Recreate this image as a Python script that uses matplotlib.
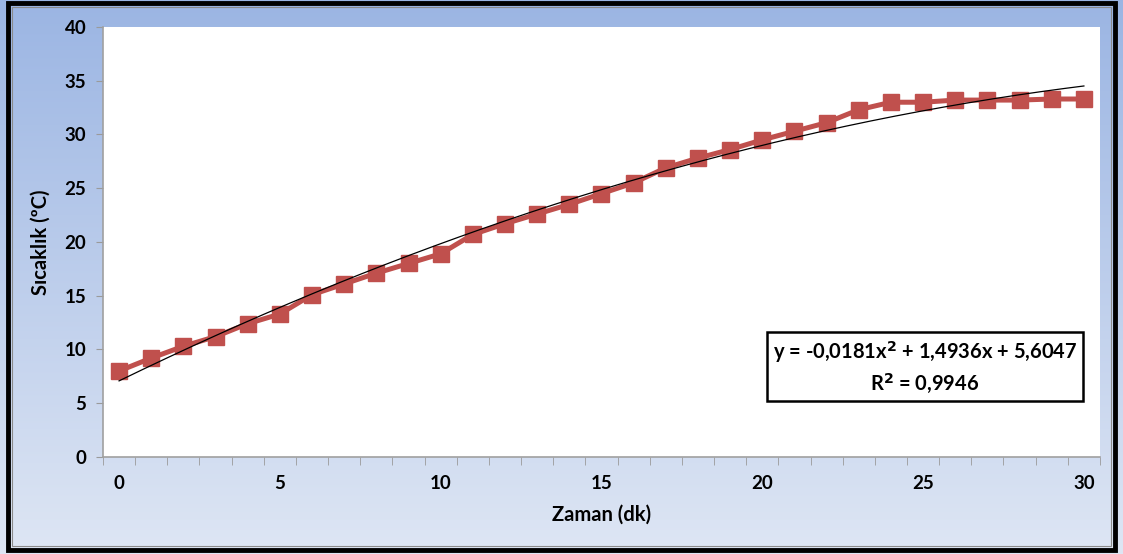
import numpy as np
import matplotlib.pyplot as plt
from matplotlib.patches import Rectangle

# Ölçüm verileri
zaman = list(range(0, 31))
sicaklik = [8.0, 9.2, 10.3, 11.2, 12.4, 13.3, 15.1, 16.1, 17.1, 18.0,
            18.9, 20.7, 21.7, 22.6, 23.5, 24.5, 25.5, 26.9, 27.8, 28.6,
            29.5, 30.3, 31.1, 32.3, 33.0, 33.0, 33.2, 33.2, 33.2, 33.3,
            33.3]

# Polinom eğilim çizgisi katsayıları (x = 1..31 sıra numarası)
trend_a = -0.0181
trend_b = 1.4936
trend_c = 5.6047
r_kare = 0.9946

plt.rcParams['font.family'] = ['Lato', 'DejaVu Sans']
plt.rcParams['font.weight'] = 'bold'

fig = plt.figure(figsize=(11.23, 5.54), dpi=100)

# arka plan gradyanı
bg = fig.add_axes([0, 0, 1, 1], zorder=-10)
grad = np.linspace(0, 1, 256).reshape(-1, 1)
top = np.array([0x9B, 0xB5, 0xE3]) / 255
bottom = np.array([0xDE, 0xE6, 0xF4]) / 255
img = top + (bottom - top) * grad[:, :, None]
bg.imshow(img, aspect='auto', extent=[0, 1, 0, 1])
bg.set_xlim(0, 1)
bg.set_ylim(0, 1)
bg.axis('off')

# çerçeve
fig.patches.append(Rectangle((0.0075, 0.008), 0.985, 0.986, transform=fig.transFigure,
                             fill=False, edgecolor='black', linewidth=3.5))
fig.patches.append(Rectangle((0.0105, 0.014), 0.979, 0.974, transform=fig.transFigure,
                             fill=False, edgecolor='#8a8a8a', linewidth=0.8))

ax = fig.add_axes([0.0917, 0.1751, 0.8878, 0.7762])
ax.set_facecolor('white')

x = np.array(zaman)
ax.plot(x, sicaklik, color='#C0504D', linewidth=3.6, marker='s',
        markersize=11.5, markerfacecolor='#C0504D', markeredgecolor='#C0504D',
        zorder=3)

xt = np.linspace(0, 30, 200)
n = xt + 1
ax.plot(xt, trend_a * n ** 2 + trend_b * n + trend_c, color='black',
        linewidth=0.9, zorder=4)

ax.set_xlim(-0.5, 30.5)
ax.set_ylim(0, 40)
ax.set_xticks(range(0, 31, 5))
ax.set_xticks(np.arange(-0.5, 31, 1), minor=True)
ax.set_yticks(range(0, 41, 5))
ax.tick_params(axis='x', which='major', length=0, pad=13, labelsize=13.5)
ax.tick_params(axis='x', which='minor', length=6, color='#9a9a9a', direction='out')
ax.tick_params(axis='y', which='major', length=5, color='#9a9a9a', pad=7, labelsize=13.5)

for side in ['top', 'right']:
    ax.spines[side].set_visible(False)
for side in ['left', 'bottom']:
    ax.spines[side].set_color('#a0a0a0')
    ax.spines[side].set_linewidth(1.2)

ax.set_xlabel('Zaman (dk)', fontsize=14.5, fontweight='bold', labelpad=9)
ax.set_ylabel('Sıcaklık (ºC)', fontsize=14.5, fontweight='bold', labelpad=10)

def virgul(v, d):
    return f"{v:.{d}f}".replace('.', ',')

denklem = (f"y = {virgul(trend_a, 4)}x$^2$ + {virgul(trend_b, 4)}x + {virgul(trend_c, 4)}\n"
           f"R$^2$ = {virgul(r_kare, 4)}")
ax.text(0.8245, 0.209, denklem, transform=ax.transAxes, ha='center', va='center',
        fontsize=14.5, fontweight='bold', linespacing=1.3,
        bbox=dict(boxstyle='square,pad=0.3', facecolor='white', edgecolor='black',
                  linewidth=1.8))

fig.savefig('out.png', dpi=100)
